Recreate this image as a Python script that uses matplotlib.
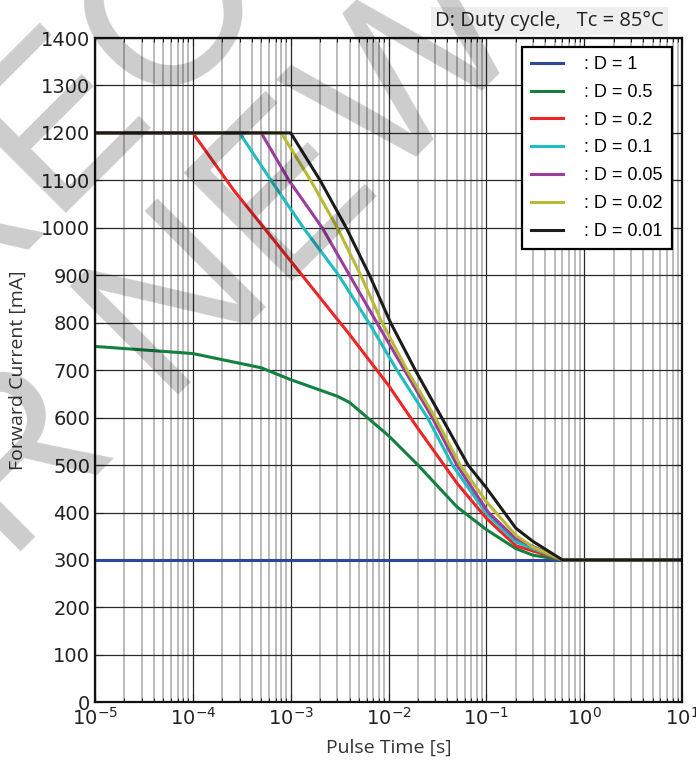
import matplotlib
matplotlib.use("Agg")
import matplotlib.pyplot as plt
from matplotlib.ticker import LogLocator, MultipleLocator, NullFormatter

# pulse time [s] and forward current [mA]
t_d1 = [1e-5, 10]
i_d1 = [300, 300]

t_d05 = [1e-5, 1e-4, 5e-4, 1e-3, 3e-3, 4e-3, 1e-2, 2e-2, 5e-2, 1e-1, 2e-1, 3e-1, 6e-1, 10]
i_d05 = [750, 735, 705, 680, 645, 632, 562, 500, 412, 364, 324, 310, 300, 300]

t_d02 = [1e-5, 1e-4, 2.6e-4, 1e-3, 4e-3, 1e-2, 2e-2, 5e-2, 1e-1, 2e-1, 6e-1, 10]
i_d02 = [1200, 1200, 1080, 930, 775, 668, 577, 462, 388, 330, 300, 300]

t_d01 = [1e-5, 3e-4, 6.3e-4, 1.35e-3, 3.1e-3, 6.3e-3, 1.22e-2, 2.5e-2, 4.5e-2, 1e-1, 2e-1, 6e-1, 10]
i_d01 = [1200, 1200, 1100, 1000, 900, 800, 700, 600, 500, 398, 338, 300, 300]

t_d005 = [1e-5, 5e-4, 9.6e-4, 2.1e-3, 4e-3, 7.6e-3, 1.46e-2, 2.8e-2, 5e-2, 1.05e-1, 2e-1, 6e-1, 10]
i_d005 = [1200, 1200, 1100, 1000, 900, 800, 700, 600, 500, 400, 345, 300, 300]

t_d002 = [1e-5, 8e-4, 1.6e-3, 3e-3, 5.2e-3, 8.6e-3, 1.55e-2, 3e-2, 5.4e-2, 1e-1, 2e-1, 3e-1, 6e-1, 10]
i_d002 = [1200, 1200, 1100, 1000, 900, 800, 700, 600, 500, 423, 352, 327, 300, 300]

t_d001 = [1e-5, 1e-3, 2e-3, 3.7e-3, 6.4e-3, 1.05e-2, 1.88e-2, 3.5e-2, 6.5e-2, 1e-1, 2e-1, 3e-1, 6e-1, 10]
i_d001 = [1200, 1200, 1100, 1000, 900, 800, 700, 600, 500, 452, 367, 339, 300, 300]

labels = [": D = 1", ": D = 0.5", ": D = 0.2", ": D = 0.1",
          ": D = 0.05", ": D = 0.02", ": D = 0.01"]
colors = ["#2f4795", "#138040", "#ee2526", "#1fbcc0",
          "#9a3d9c", "#b9b934", "#1c1c1c"]

series = [(t_d1, i_d1), (t_d05, i_d05), (t_d02, i_d02), (t_d01, i_d01),
          (t_d005, i_d005), (t_d002, i_d002), (t_d001, i_d001)]

fig = plt.figure(figsize=(6.96, 7.65), dpi=100)
ax = fig.add_axes([95 / 696, 1 - 702.3 / 765, 587 / 696, 664.3 / 765])

for (t, i), lab, c in zip(series, labels, colors):
    ax.plot(t, i, color=c, lw=2.2, label=lab, solid_joinstyle="round")

ax.set_xscale("log")
ax.set_xlim(1e-5, 10)
ax.set_ylim(0, 1400)
ax.yaxis.set_major_locator(MultipleLocator(100))
ax.xaxis.set_major_locator(LogLocator(base=10, numticks=10))
ax.xaxis.set_minor_locator(LogLocator(base=10, subs=range(2, 10), numticks=20))
ax.xaxis.set_minor_formatter(NullFormatter())

ax.grid(True, which="major", color="#2a2a2a", lw=0.9)
ax.grid(True, which="minor", axis="x", color="#a8a8a8", lw=1.1)
ax.set_axisbelow(True)

ax.tick_params(which="both", direction="in", top=True, right=True)
ax.tick_params(which="major", length=6, labelsize=14, colors="#222222")
ax.tick_params(which="minor", length=3)
for s in ax.spines.values():
    s.set_linewidth(1.6)
    s.set_color("#111111")

ax.set_xlabel("Pulse Time [s]", family="Open Sans", fontsize=14, color="#333333", labelpad=7)
ax.set_ylabel("Forward Current [mA]", family="Open Sans", fontsize=14, color="#333333", labelpad=10)

leg = ax.legend(loc="upper right", bbox_to_anchor=(0.983, 0.9865), borderaxespad=0,
                prop={"family": "Liberation Sans", "size": 13},
                fancybox=False, framealpha=1, edgecolor="black",
                handlelength=1.75, handletextpad=1.2, labelspacing=0.6,
                borderpad=0.5)
leg.get_frame().set_linewidth(1.6)

fig.text(664 / 696, 1 - 21 / 765, "D: Duty cycle,   Tc = 85°C", ha="right", va="center",
         family="Open Sans", fontsize=14.5, color="#222222",
         bbox=dict(boxstyle="square,pad=0.2", fc="#eeeeee", ec="none"))

# diagonal stamp over the plot
wm = dict(rotation=45, rotation_mode="anchor", ha="left", va="center",
          family="Liberation Sans", fontsize=160,
          color="black", alpha=0.2, zorder=10)
fig.text(-473 / 696, 1 - 671 / 765, "NOT RECOMMENDED", **wm)
fig.text(-250 / 696, 1 - 742 / 765, "FOR NEW DESIGN", **wm)

fig.savefig("out.png", dpi=100)
